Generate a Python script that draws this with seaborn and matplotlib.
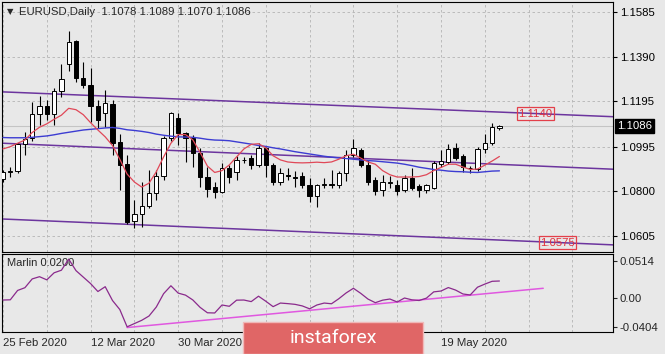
import numpy as np
import pandas as pd
import matplotlib
matplotlib.use('Agg')
import matplotlib.pyplot as plt
import matplotlib.transforms as mtransforms
from matplotlib.patches import Rectangle
import seaborn as sns

# EURUSD daily bars, 25 Feb 2020 - 29 May 2020
dates = pd.bdate_range('2020-02-25', '2020-05-29')
opens = [1.0855, 1.0885, 1.0887, 1.1005, 1.1033, 1.1138, 1.1173, 1.1137, 1.1240, 1.1356,
         1.1458, 1.1297, 1.1265, 1.1173, 1.1141, 1.1182, 1.1017, 1.0919, 1.0668, 1.0700,
         1.0735, 1.0792, 1.0865, 1.1032, 1.1121, 1.1055, 1.1033, 1.0967, 1.0862, 1.0818,
         1.0797, 1.0902, 1.0884, 1.0935, 1.0945, 1.0915, 1.0989, 1.0915, 1.0842, 1.0870,
         1.0862, 1.0867, 1.0827, 1.0779, 1.0829, 1.0832, 1.0827, 1.0880, 1.0959, 1.0980,
         1.0915, 1.0849, 1.0805, 1.0835, 1.0827, 1.0805, 1.0858, 1.0823, 1.0805, 1.0814,
         1.0919, 1.0928, 1.0990, 1.0954, 1.0900, 1.0897, 1.0985, 1.1010, 1.1078]
highs = [1.0892, 1.0905, 1.1013, 1.1060, 1.1191, 1.1215, 1.1198, 1.1253, 1.1357, 1.1502,
         1.1462, 1.1367, 1.1340, 1.1200, 1.1243, 1.1200, 1.1050, 1.0960, 1.0762, 1.0840,
         1.0893, 1.0893, 1.1040, 1.1147, 1.1143, 1.1060, 1.1046, 1.0989, 1.0906, 1.0840,
         1.0924, 1.0915, 1.0952, 1.0950, 1.0960, 1.1011, 1.0995, 1.0924, 1.0902, 1.0900,
         1.0890, 1.0885, 1.0858, 1.0830, 1.0858, 1.0893, 1.0890, 1.0981, 1.1030, 1.0990,
         1.0937, 1.0860, 1.0870, 1.0868, 1.0850, 1.0870, 1.0900, 1.0830, 1.0832, 1.0930,
         1.0981, 1.1005, 1.1013, 1.0965, 1.0910, 1.0995, 1.1051, 1.1099, 1.1089]
lows = [1.0840, 1.0862, 1.0880, 1.0958, 1.1020, 1.1092, 1.1110, 1.1090, 1.1213, 1.1325,
        1.1280, 1.1251, 1.1103, 1.1075, 1.1081, 1.0959, 1.0805, 1.0655, 1.0639, 1.0643,
        1.0727, 1.0760, 1.0850, 1.1020, 1.1002, 1.0928, 1.0906, 1.0818, 1.0775, 1.0770,
        1.0792, 1.0836, 1.0850, 1.0925, 1.0895, 1.0906, 1.0864, 1.0825, 1.0827, 1.0850,
        1.0820, 1.0813, 1.0754, 1.0730, 1.0814, 1.0814, 1.0815, 1.0845, 1.0950, 1.0905,
        1.0827, 1.0782, 1.0780, 1.0815, 1.0785, 1.0795, 1.0805, 1.0775, 1.0790, 1.0808,
        1.0905, 1.0920, 1.0938, 1.0885, 1.0880, 1.0890, 1.0969, 1.1002, 1.1070]
closes = [1.0884, 1.0887, 1.1005, 1.1030, 1.1138, 1.1173, 1.1138, 1.1240, 1.1290, 1.1455,
          1.1295, 1.1265, 1.1173, 1.1112, 1.1185, 1.1011, 1.0915, 1.0665, 1.0700, 1.0735,
          1.0792, 1.0865, 1.1032, 1.1144, 1.1055, 1.1033, 1.0967, 1.0862, 1.0810, 1.0797,
          1.0902, 1.0862, 1.0937, 1.0938, 1.0915, 1.0989, 1.0915, 1.0840, 1.0881, 1.0865,
          1.0858, 1.0827, 1.0779, 1.0827, 1.0832, 1.0826, 1.0881, 1.0959, 1.0989, 1.0915,
          1.0840, 1.0800, 1.0842, 1.0842, 1.0800, 1.0858, 1.0815, 1.0805, 1.0829, 1.0924,
          1.0930, 1.0985, 1.0944, 1.0907, 1.0902, 1.0985, 1.1013, 1.1083, 1.1086]

# moving averages drawn on the price chart
fast_ma = [1.0985, 1.0995, 1.1010, 1.1024, 1.1057, 1.1080, 1.1095, 1.1115, 1.1133, 1.1163,
           1.1157, 1.1135, 1.1100, 1.1068, 1.1038, 1.1000, 1.0940, 1.0875, 1.0840, 1.0818,
           1.0835, 1.0885, 1.0950, 1.1010, 1.1048, 1.1048, 1.1025, 1.0970, 1.0910, 1.0882,
           1.0890, 1.0915, 1.0950, 1.0985, 1.1005, 1.1008, 1.0990, 1.0955, 1.0937, 1.0928,
           1.0925, 1.0924, 1.0925, 1.0927, 1.0925, 1.0928, 1.0940, 1.0955, 1.0962, 1.0945,
           1.0928, 1.0918, 1.0890, 1.0872, 1.0862, 1.0862, 1.0862, 1.0864, 1.0872, 1.0890,
           1.0904, 1.0918, 1.0918, 1.0906, 1.0895, 1.0897, 1.0914, 1.0932, 1.0952]
slow_ma = [1.1035, 1.1034, 1.1034, 1.1034, 1.1036, 1.1039, 1.1042, 1.1047, 1.1053, 1.1058,
           1.1063, 1.1068, 1.1071, 1.1074, 1.1077, 1.1079, 1.1075, 1.1069, 1.1066, 1.1062,
           1.1057, 1.1050, 1.1045, 1.1041, 1.1038, 1.1037, 1.1036, 1.1032, 1.1027, 1.1024,
           1.1023, 1.1021, 1.1016, 1.1011, 1.1006, 1.1000, 1.0996, 1.0990, 1.0985, 1.0979,
           1.0973, 1.0968, 1.0963, 1.0958, 1.0953, 1.0949, 1.0946, 1.0943, 1.0940, 1.0937,
           1.0934, 1.0932, 1.0929, 1.0926, 1.0923, 1.0918, 1.0912, 1.0905, 1.0900, 1.0895,
           1.0892, 1.0888, 1.0886, 1.0885, 1.0883, 1.0882, 1.0885, 1.0888, 1.0889]

# Marlin oscillator (lower window)
marlin = [-0.0028, -0.0025, 0.0105, 0.0143, 0.0265, 0.0296, 0.0252, 0.0350, 0.0386, 0.0540,
          0.0380, 0.0290, 0.0200, 0.0090, 0.0157, -0.0035, -0.0160, -0.0400, -0.0355, -0.0310,
          -0.0250, -0.0125, 0.0060, 0.0170, 0.0068, 0.0040, -0.0027, -0.0130, -0.0205, -0.0208,
          -0.0097, -0.0115, -0.0030, -0.0028, -0.0050, 0.0025, -0.0045, -0.0120, -0.0070, -0.0078,
          -0.0088, -0.0110, -0.0150, -0.0097, -0.0070, -0.0080, -0.0010, 0.0070, 0.0135, 0.0065,
          -0.0015, -0.0065, -0.0030, -0.0014, -0.0055, 0.0000, -0.0025, -0.0035, -0.0002, 0.0085,
          0.0097, 0.0145, 0.0110, 0.0056, 0.0042, 0.0150, 0.0193, 0.0232, 0.0236]

# trend lines: (bar, price) anchor pairs
upper_line = [(0, 1.1235), (73, 1.1140)]
middle_line = [(0, 1.1010), (83, 1.0897)]
lower_line = [(0, 1.0678), (76, 1.0575)]
level_bars = [72.9, 75.95]
level_prices = [1.1140, 1.0575]
marlin_trend_bars = [17, 74]
marlin_trend_vals = [-0.0410, 0.0135]

price_ticks = [1.1585, 1.1390, 1.1195, 1.0995, 1.0800, 1.0605]
marlin_ticks = [0.0514, 0.0, -0.0404]
marlin_tick_labels = ['0.0514', '0.00', '-0.0404']
last_price = 1.1086

df = pd.DataFrame({'bar': np.arange(len(closes)), 'open': opens, 'high': highs,
                   'low': lows, 'close': closes, 'fast': fast_ma, 'slow': slow_ma,
                   'marlin': marlin})

sns.set_style('white')
plt.rcParams['font.family'] = ['Liberation Sans', 'DejaVu Sans']
plt.rcParams['font.size'] = 8.2

bg = '#e8e8e8'
grid_kw = dict(color='#b4b4b4', linestyle=(0, (3, 3)), linewidth=0.6)

fig = plt.figure(figsize=(6.65, 3.54), dpi=100, facecolor=bg)
ax = fig.add_axes([2 / 665, 1 - 252 / 354, 611 / 665, 250 / 354], facecolor=bg)
ax2 = fig.add_axes([2 / 665, 1 - 332 / 354, 611 / 665, 78 / 354], facecolor=bg, sharex=ax)

# candles
up = df['close'] >= df['open']
ax.vlines(df['bar'], df['low'], df['high'], color='black', linewidth=0.8, zorder=3)
ax.bar(df['bar'], (df['close'] - df['open']).abs(), bottom=df[['open', 'close']].min(axis=1),
       width=0.6, color=np.where(up, 'white', 'black'), edgecolor='black', linewidth=0.7, zorder=4)

# moving averages
sns.lineplot(data=df, x='bar', y='slow', color='#3c3cd2', linewidth=1.0, ax=ax, zorder=5)
sns.lineplot(data=df, x='bar', y='fast', color='#e04858', linewidth=0.9, ax=ax, zorder=6)

# channel lines
for p1, p2 in [upper_line, middle_line, lower_line]:
    ax.axline(p1, p2, color='#6c359e', linewidth=1.1, zorder=2)

# bid line
ax.axhline(last_price, color='#c4c4c4', linewidth=0.8, zorder=1)

# price labels on the channel lines
for b, p in zip(level_bars, level_prices):
    ax.text(b, p, f'{p:.4f}', color='#e3303c', ha='center', va='center', zorder=8,
            bbox=dict(boxstyle='square,pad=0.12', fc='none', ec='#e3404a', lw=0.9))

ax.set_xlim(-0.137, 83.56)
ax.set_ylim(1.05335, 1.16288)
ax.yaxis.tick_right()
ax.set_yticks(price_ticks)
ax.set_yticklabels([f'{v:.4f}' for v in price_ticks])
ax.tick_params(axis='y', length=3, pad=2, width=0.8, colors='black')
ax.tick_params(axis='x', which='both', bottom=False, labelbottom=False)
ax.set_xlabel('')
ax.set_ylabel('')
ax.grid(True, which='both', **grid_kw)

# current price box on the scale
ax.text(1.0065, last_price, f'{last_price:.4f}', transform=mtransforms.blended_transform_factory(
    ax.transAxes, ax.transData), ha='left', va='center', color='white', zorder=9, clip_on=False,
    bbox=dict(boxstyle='square,pad=0.2', fc='black', ec='black'))

ax.text(5 / 611, 1 - 10 / 250, '\u25bc', transform=ax.transAxes, fontsize=6, va='center',
        ha='left', family=['DejaVu Sans'])
ax.text(17 / 611, 1 - 10 / 250, 'EURUSD,Daily  1.1078 1.1089 1.1070 1.1086',
        transform=ax.transAxes, va='center', ha='left')

# lower window
sns.lineplot(data=df, x='bar', y='marlin', color='#8a2a8c', linewidth=0.9, ax=ax2, zorder=4)
ax2.plot(marlin_trend_bars, marlin_trend_vals, color='#e058e0', linewidth=1.1, zorder=3)
ax2.set_ylim(-0.0472, 0.0611)
ax2.yaxis.tick_right()
ax2.set_yticks(marlin_ticks)
ax2.set_yticklabels(marlin_tick_labels)
ax2.tick_params(axis='y', length=3, pad=2, width=0.8)

# date labels every 12 bars; the two under the watermark are hidden in the reference
tick_bars = np.arange(0, 61, 12)
tick_labels = [d.strftime('%-d %b %Y') for d in dates[tick_bars]]
hidden = {36, 48}
tick_labels = ['' if b in hidden else t for b, t in zip(tick_bars, tick_labels)]
ax2.set_xticks(tick_bars)
ax2.set_xticklabels(tick_labels, ha='left')
ax2.set_xticks(np.arange(0, 84, 6), minor=True)
ax2.tick_params(axis='x', which='major', length=3, pad=1.5, width=0.8, direction='out')
ax2.tick_params(axis='x', which='minor', length=0)
ax2.grid(True, axis='x', which='both', **grid_kw)
ax2.set_xlabel('')
ax2.set_ylabel('')
ax2.text(5 / 611, 1 - 9 / 78, 'Marlin 0.0200', transform=ax2.transAxes, va='center',
         ha='left', fontsize=8)

for a in (ax, ax2):
    for s in a.spines.values():
        s.set_color('black')
        s.set_linewidth(0.8)

# watermark
fig.add_artist(Rectangle((243 / 665, 0), 180 / 665, 32 / 354, transform=fig.transFigure,
                         fc='#e06666', ec='#f0b8b8', lw=1, zorder=20))
fig.text(333 / 665, 1 - 338 / 354, 'instaforex', color='white', fontsize=14,
         family=['Roboto'], ha='center', va='center', zorder=21)

fig.savefig('out.png', dpi=100, facecolor=bg)
